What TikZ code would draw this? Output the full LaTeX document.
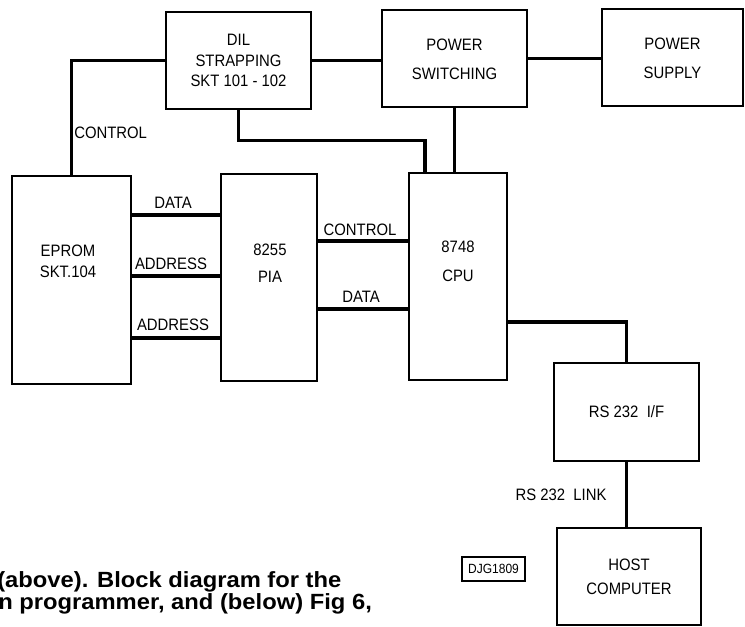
\documentclass[tikz,border=0pt]{standalone}
\usepackage{fontspec}
\newfontfamily\dinfont[FakeStretch=0.9]{Liberation Sans}
\newfontfamily\capfont[FakeStretch=1.08]{Liberation Sans}
\begin{document}
\begin{tikzpicture}[x=0.75pt,y=-0.75pt,
  box/.style={draw, line width=2pt, rectangle, inner sep=0pt, align=center,
    font=\dinfont\fontsize{12.4}{15.4}\selectfont},
  txt/.style={inner sep=0pt, align=center, font=\dinfont\fontsize{12.4}{15.4}\selectfont},
  wire/.style={line width=2.6pt},
  lbl/.style={inner sep=0pt, font=\dinfont\fontsize{12.4}{14}\selectfont},
  captxt/.style={inner sep=0pt, font=\capfont\bfseries\fontsize{16.5}{17.5}\selectfont},
]
\useasboundingbox (0,0) rectangle (745,627);

% boxes
\node[box, minimum width=108.75pt, minimum height=72.75pt] (dil) at (238.5,60.5)
  {DIL\\STRAPPING\\SKT 101 - 102};
\node[box, minimum width=108.75pt, minimum height=72.75pt,
  font=\dinfont\fontsize{12.4}{21.75}\selectfont] (psw) at (454.5,58.5)
  {\rule{0pt}{10pt}POWER\\SWITCHING};
\node[box, minimum width=105.75pt, minimum height=72.75pt,
  font=\dinfont\fontsize{12.4}{21.75}\selectfont] (psu) at (672.5,57.5)
  {\rule{0pt}{10pt}POWER\\SUPPLY};
\node[box, minimum width=89.25pt, minimum height=156pt] (eprom) at (71.5,280) {};
\node[box, minimum width=72pt, minimum height=155.25pt] (pia) at (269,277.5) {};
\node[box, minimum width=73.5pt, minimum height=155.25pt] (cpu) at (458,276.5) {};
\node[box, minimum width=108.75pt, minimum height=73.5pt] (rs) at (626.5,412) {RS 232\enspace I/F};
\node[box, minimum width=108pt, minimum height=72.75pt,
  font=\dinfont\fontsize{12.4}{18}\selectfont] (host) at (629,576.5) {HOST\\COMPUTER};
\node[draw, line width=1pt, inner sep=0pt, minimum width=47.25pt, minimum height=18pt,
  font=\dinfont\fontsize{10}{11}\selectfont] (djg) at (493.5,569) {DJG1809};

% texts of the tall boxes
\node[txt] (eprom-t) at (68,261.5) {EPROM\\SKT.104};
\node[txt, font=\dinfont\fontsize{12.4}{20}\selectfont] (pia-t) at (270,263.5) {8255\\PIA};
\node[txt, font=\dinfont\fontsize{12.4}{21.75}\selectfont] (cpu-t) at (458,261.5) {8748\\CPU};

% connectors
\draw[wire] (dil.west) -| (eprom.north);
\draw[wire] (dil.east) -- (dil.east -| psw.west);
\draw[wire] (psw.east) -- (psw.east -| psu.west);
\draw[wire] (dil.south) -- ++(0,30) -| ([xshift=-24.75pt]cpu.north);
\draw[wire] (psw.south) -- (psw.south |- cpu.north);
\draw[wire] (eprom.east |- 0,215) -- (pia.west |- 0,215);
\draw[wire] (eprom.east |- 0,276) -- (pia.west |- 0,276);
\draw[wire] (eprom.east |- 0,338) -- (pia.west |- 0,338);
\draw[wire] (pia.east |- 0,241) -- (cpu.west |- 0,241);
\draw[wire] (pia.east |- 0,309) -- (cpu.west |- 0,309);
\draw[wire] (cpu.east |- 0,322) -| (rs.north);
\draw[wire] (rs.south) -- (rs.south |- host.north);

% connector labels
\node[lbl, anchor=west] (l-ctrl1) at (74,133) {CONTROL};
\node[lbl] (l-data1) at (173,203) {DATA};
\node[lbl] (l-addr1) at (171,264) {ADDRESS};
\node[lbl] (l-addr2) at (173,325) {ADDRESS};
\node[lbl] (l-ctrl2) at (360,230) {CONTROL};
\node[lbl] (l-data2) at (361,297) {DATA};
\node[lbl] (l-link) at (561,495) {RS 232\enspace LINK};

% caption (cut by the picture's edge, as in the reference)
\begin{scope}
\clip (0,0) rectangle (745,627);
\node[captxt, anchor=base west] (cap1) at (-3,587) {(above). Block diagram for the};
\node[captxt, anchor=base west] (cap2) at (-2,609) {n programmer, and (below) Fig 6,};
\end{scope}
\end{tikzpicture}
\end{document}
